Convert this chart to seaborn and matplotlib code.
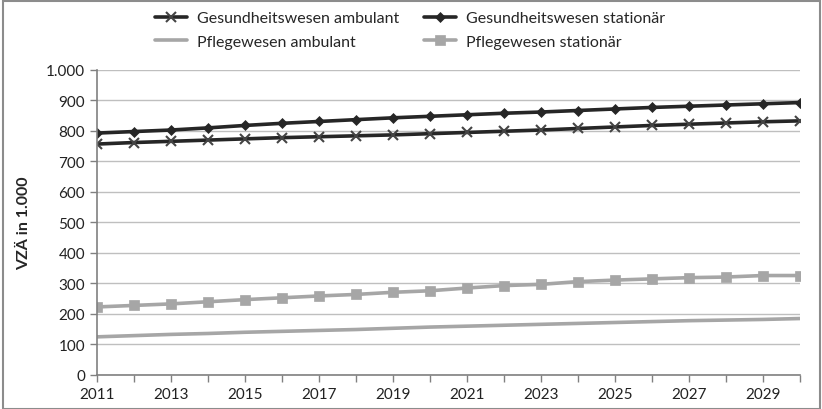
import matplotlib
matplotlib.use("Agg")
import matplotlib.pyplot as plt
import matplotlib.ticker as mticker
import seaborn as sns
import pandas as pd

## data
years = list(range(2011, 2031))
gesundheit_ambulant = [757, 762, 766, 770, 774, 778, 781, 784, 787, 791,
                       795, 799, 803, 808, 813, 818, 822, 826, 830, 833]
gesundheit_stationaer = [793, 798, 803, 810, 818, 825, 831, 837, 843, 848,
                         853, 858, 862, 867, 872, 877, 881, 885, 889, 893]
pflege_ambulant = [125, 129, 133, 136, 140, 143, 146, 149, 153, 157,
                   160, 163, 166, 169, 172, 175, 178, 180, 182, 185]
pflege_stationaer = [223, 228, 233, 240, 247, 253, 259, 264, 271, 276,
                     285, 293, 297, 306, 311, 315, 319, 321, 326, 326]
tick_years = list(range(2011, 2031, 2))

series = {
    "Gesundheitswesen ambulant": gesundheit_ambulant,
    "Gesundheitswesen stationär": gesundheit_stationaer,
    "Pflegewesen ambulant": pflege_ambulant,
    "Pflegewesen stationär": pflege_stationaer,
}
dark = "#262626"
grey = "#a6a6a6"
styles = {
    "Gesundheitswesen ambulant": dict(color=dark, marker="x", markersize=7,
                                      markeredgewidth=1.5, markeredgecolor="#444444"),
    "Gesundheitswesen stationär": dict(color=dark, marker="D", markersize=5.5,
                                       markeredgewidth=0.5, markeredgecolor=dark),
    "Pflegewesen ambulant": dict(color=grey),
    "Pflegewesen stationär": dict(color=grey, marker="s", markersize=7,
                                  markeredgewidth=0.5, markeredgecolor=grey),
}

df = pd.DataFrame({"Jahr": years, **series})

sns.set_style("white")
plt.rcParams["font.family"] = ["Lato", "DejaVu Sans"]

fig = plt.figure(figsize=(8.22, 4.10), dpi=100)
ax = fig.add_axes([0.118, 0.083, 0.855, 0.744])

for name in series:
    sns.lineplot(data=df, x="Jahr", y=name, ax=ax, label=name,
                 linewidth=2.6, linestyle="-", **styles[name])

ax.set_xlim(2011, 2030)
ax.set_ylim(0, 1000)
ax.xaxis.set_major_locator(mticker.FixedLocator(tick_years))
ax.xaxis.set_minor_locator(mticker.MultipleLocator(1))
ax.yaxis.set_major_locator(mticker.MultipleLocator(100))
ax.yaxis.set_major_formatter(mticker.FuncFormatter(
    lambda v, p: f"{int(v):,}".replace(",", ".")))
ax.grid(axis="y", color="#bfbfbf", linewidth=1)
ax.set_axisbelow(True)
ax.set_xlabel("")
ax.set_ylabel("VZÄ in 1.000", fontsize=11.5, fontweight="bold", labelpad=11)
ax.tick_params(axis="both", labelsize=11, colors="#222222")
ax.tick_params(axis="x", which="both", direction="out", length=5, width=1,
               color="#808080", bottom=True, pad=4)
ax.tick_params(axis="y", direction="out", length=5, width=1, color="#808080", left=True)
for s in ["top", "right"]:
    ax.spines[s].set_visible(False)
for s in ["left", "bottom"]:
    ax.spines[s].set_color("#808080")
    ax.spines[s].set_linewidth(1.2)

# legend: row-wise order like the original (2 columns)
handles, labels = ax.get_legend_handles_labels()
order = [0, 2, 1, 3]
ax.get_legend().remove()
fig.legend([handles[i] for i in order], [labels[i] for i in order],
           loc="upper left", bbox_to_anchor=(155 / 822, 1 - 12 / 410),
           bbox_transform=fig.transFigure, ncol=2, frameon=False,
           fontsize=11.5, handlelength=2.0, handletextpad=0.6,
           columnspacing=1.6, labelspacing=0.6, borderpad=0, borderaxespad=0)

# outer frame
fig.patches.append(plt.Rectangle((0.004, 0.0), 0.994, 0.994, transform=fig.transFigure,
                                 fill=False, edgecolor="#8c8c8c", linewidth=1.5))

fig.savefig("out.png", dpi=100)
